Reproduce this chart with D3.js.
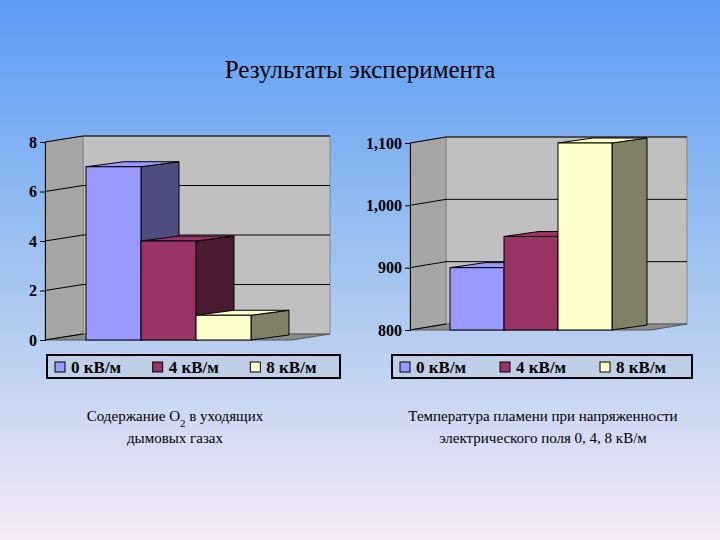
<!DOCTYPE html>
<html><head><meta charset="utf-8">
<script src="https://cdn.jsdelivr.net/npm/d3@7"></script>
<style>body{margin:0}svg{display:block}</style>
</head><body>
<svg id="c" width="720" height="540"></svg>
<script>
const series = ['0 кВ/м', '4 кВ/м', '8 кВ/м']
const colors = ['#9999ff', '#993366', '#ffffcc']
const sideColors = ['#4d4d80', '#4d1a33', '#808066']
const o2Values = [7, 4, 1]
const o2Ticks = [0, 2, 4, 6, 8]
const tempValues = [900, 950, 1100]
const tempTicks = [800, 900, 1000, 1100]

const svg = d3.select('#c')
const defs = svg.append('defs')
const g = defs.append('linearGradient').attr('id', 'bg').attr('x1', 0).attr('y1', 0).attr('x2', 0).attr('y2', 1)
g.append('stop').attr('offset', 0).attr('stop-color', '#5b9cf5')
g.append('stop').attr('offset', 0.55).attr('stop-color', '#a9c8f0')
g.append('stop').attr('offset', 1).attr('stop-color', '#f6eaf6')
svg.append('rect').attr('width', 720).attr('height', 540).attr('fill', 'url(#bg)')

svg.append('text').attr('x', 360).attr('y', 78).attr('text-anchor', 'middle')
  .attr('font-family', 'Liberation Serif').attr('font-size', 25).text('Результаты эксперимента')

function chart (o) {
  const y = d3.scaleLinear().domain(o.domain).range([o.bottom, o.top])
  const c = svg.append('g')
  const dx = o.dx, dy = -6
  const wallL = o.axisX + dx, wallR = o.wallR
  // back wall
  c.append('rect').attr('x', wallL).attr('y', y(o.domain[1]) + dy).attr('width', wallR - wallL)
    .attr('height', o.bottom - y(o.domain[1])).attr('fill', '#c0c0c0').attr('stroke', '#888')
  // side wall
  c.append('path').attr('d', `M${o.axisX},${y(o.domain[0])}L${wallL},${y(o.domain[0]) + dy}L${wallL},${y(o.domain[1]) + dy}L${o.axisX},${y(o.domain[1])}Z`)
    .attr('fill', '#a6a6a6').attr('stroke', '#888')
  // floor
  c.append('path').attr('d', `M${o.axisX},${o.bottom}L${wallR - dx},${o.bottom}L${wallR},${o.bottom + dy}L${wallL},${o.bottom + dy}Z`)
    .attr('fill', '#8c8c8c').attr('stroke', '#555')
  o.ticks.forEach((t, i) => {
    if (i > 0) c.append('line').attr('x1', wallL).attr('x2', wallR).attr('y1', y(t) + dy).attr('y2', y(t) + dy).attr('stroke', '#000')
    c.append('line').attr('x1', o.axisX).attr('x2', wallL).attr('y1', y(t)).attr('y2', y(t) + dy).attr('stroke', '#000')
  })
  c.append('g').attr('transform', `translate(${o.axisX},0)`)
    .call(d3.axisLeft(y).tickValues(o.ticks).tickSize(5).tickSizeOuter(0))
    .call(a => a.select('.domain').attr('stroke', '#000'))
    .call(a => a.selectAll('text').attr('font-family', 'Liberation Serif').attr('font-weight', 'bold').attr('font-size', 16).attr('fill', '#000'))
  const x = d3.scaleBand().domain(series).range([o.barX, o.barX + o.barW * 3])
  const bars = c.selectAll('.b').data(o.values).join('g')
  const bd = o.bdx
  bars.append('path').attr('d', (d, i) => { const x0 = x(series[i]) + x.bandwidth(), t = y(d); return `M${x0},${t}L${x0 + bd},${t - 5}L${x0 + bd},${o.bottom - 5}L${x0},${o.bottom}Z` })
    .attr('fill', (d, i) => sideColors[i]).attr('stroke', '#000')
  bars.append('path').attr('d', (d, i) => { const x0 = x(series[i]), x1 = x0 + x.bandwidth(), t = y(d); return `M${x0},${t}L${x0 + bd},${t - 5}L${x1 + bd},${t - 5}L${x1},${t}Z` })
    .attr('fill', (d, i) => colors[i]).attr('stroke', '#000')
  bars.append('rect').attr('x', (d, i) => x(series[i])).attr('y', d => y(d)).attr('width', x.bandwidth())
    .attr('height', d => o.bottom - y(d)).attr('fill', (d, i) => colors[i]).attr('stroke', '#000')
  // legend
  const lg = c.append('g').attr('transform', `translate(${o.legX},355)`)
  lg.append('rect').attr('width', o.legW).attr('height', 23).attr('fill', '#bfcfe8').attr('stroke', '#000').attr('stroke-width', 2)
  series.forEach((s, i) => {
    const lx = 8 + i * o.legW / 3
    lg.append('rect').attr('x', lx).attr('y', 7).attr('width', 10).attr('height', 10).attr('fill', colors[i]).attr('stroke', '#000')
    lg.append('text').attr('x', lx + 16).attr('y', 18).attr('font-family', 'Liberation Serif').attr('font-weight', 'bold').attr('font-size', 17).text(s)
  })
  const cap = svg.append('text').attr('text-anchor', 'middle').attr('font-family', 'Liberation Serif').attr('font-size', 15)
  o.caption(cap, o.capX)
}

chart({ domain: [0, 8], ticks: o2Ticks, values: o2Values, axisX: 45, dx: 38, wallR: 330, top: 142, bottom: 340, barX: 86, barW: 55, bdx: 38, legX: 47, legW: 293, capX: 175,
  caption: (t, cx) => {
    t.append('tspan').attr('x', cx).attr('y', 421).text('Содержание O').append('tspan').attr('baseline-shift', 'sub').attr('font-size', 11).text('2')
    t.append('tspan').text(' в уходящих')
    t.append('tspan').attr('x', cx).attr('y', 443).text('дымовых газах')
  } })
chart({ domain: [800, 1100], ticks: tempTicks, values: tempValues, axisX: 410, dx: 36, wallR: 687, top: 143, bottom: 330, barX: 450, barW: 54, bdx: 35, legX: 392, legW: 300, capX: 543,
  caption: (t, cx) => {
    t.append('tspan').attr('x', cx).attr('y', 421).text('Температура пламени при напряженности')
    t.append('tspan').attr('x', cx).attr('y', 443).text('электрического поля 0, 4, 8 кВ/м')
  } })
</script>
</body></html>
